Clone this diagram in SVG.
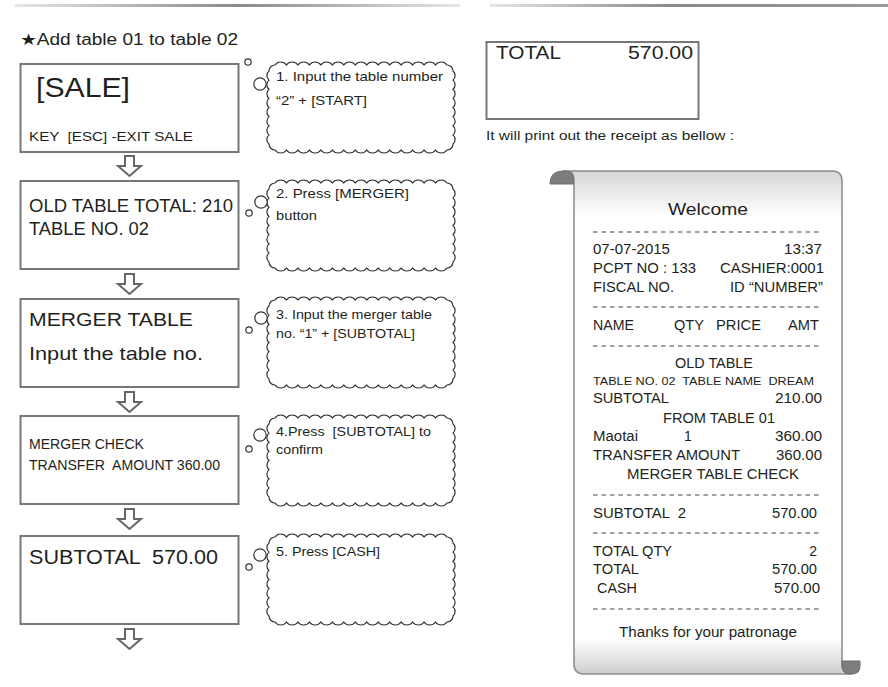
<svg xmlns="http://www.w3.org/2000/svg" width="888" height="687" viewBox="0 0 888 687">
<style>
text{font-family:"Liberation Sans",Arial,sans-serif;fill:#231f20;white-space:pre}
.box{fill:#fff;stroke:#777;stroke-width:2}
.cloud{fill:#fff;stroke:#333;stroke-width:1.2}
.arrow{fill:#fff;stroke:#666;stroke-width:2;stroke-linejoin:miter}
.dash{stroke:#444;stroke-width:1.2;stroke-dasharray:4.5 4}
.bt{font-size:13.5px}
.rt{font-size:14px}
.end{text-anchor:end}
.mid{text-anchor:middle}
</style>
<defs>
<linearGradient id="barL" x1="0" x2="1" y1="0" y2="0">
<stop offset="0" stop-color="#e6e6e6"/><stop offset="0.5" stop-color="#8a8a8a"/><stop offset="1" stop-color="#e6e6e6"/>
</linearGradient>
<linearGradient id="barR" x1="0" x2="1" y1="0" y2="0">
<stop offset="0" stop-color="#e6e6e6"/><stop offset="0.45" stop-color="#8a8a8a"/><stop offset="1" stop-color="#9a9a9a"/>
</linearGradient>
<linearGradient id="paper" x1="0" x2="0" y1="0" y2="1">
<stop offset="0" stop-color="#d6d6d6"/><stop offset="0.09" stop-color="#fff"/><stop offset="0.93" stop-color="#fff"/><stop offset="1" stop-color="#cdcdcd"/>
</linearGradient>
<path id="cloud" d="M6,0 a7,7 0 0 1 11.467,0 a7,7 0 0 1 11.467,0 a7,7 0 0 1 11.467,0 a7,7 0 0 1 11.467,0 a7,7 0 0 1 11.467,0 a7,7 0 0 1 11.467,0 a7,7 0 0 1 11.467,0 a7,7 0 0 1 11.467,0 a7,7 0 0 1 11.467,0 a7,7 0 0 1 11.467,0 a7,7 0 0 1 11.467,0 a7,7 0 0 1 11.467,0 a7,7 0 0 1 11.467,0 a7,7 0 0 1 11.467,0 a7,7 0 0 1 11.467,0 a6,6 0 0 1 6,6 a6,6 0 0 1 0,9.125 a6,6 0 0 1 0,9.125 a6,6 0 0 1 0,9.125 a6,6 0 0 1 0,9.125 a6,6 0 0 1 0,9.125 a6,6 0 0 1 0,9.125 a6,6 0 0 1 0,9.125 a6,6 0 0 1 0,9.125 a6,6 0 0 1 -6,6 a7,7 0 0 1 -11.467,0 a7,7 0 0 1 -11.467,0 a7,7 0 0 1 -11.467,0 a7,7 0 0 1 -11.467,0 a7,7 0 0 1 -11.467,0 a7,7 0 0 1 -11.467,0 a7,7 0 0 1 -11.467,0 a7,7 0 0 1 -11.467,0 a7,7 0 0 1 -11.467,0 a7,7 0 0 1 -11.467,0 a7,7 0 0 1 -11.467,0 a7,7 0 0 1 -11.467,0 a7,7 0 0 1 -11.467,0 a7,7 0 0 1 -11.467,0 a7,7 0 0 1 -11.467,0 a6,6 0 0 1 -6,-6 a6,6 0 0 1 0,-9.125 a6,6 0 0 1 0,-9.125 a6,6 0 0 1 0,-9.125 a6,6 0 0 1 0,-9.125 a6,6 0 0 1 0,-9.125 a6,6 0 0 1 0,-9.125 a6,6 0 0 1 0,-9.125 a6,6 0 0 1 0,-9.125 a6,6 0 0 1 6,-6 z"/>
</defs>
<rect width="888" height="687" fill="#fff"/>
<rect x="15" y="4" width="445" height="3" fill="url(#barL)"/>
<rect x="490" y="4" width="398" height="3" fill="url(#barR)"/>
<text x="20" y="45" font-size="16" textLength="218" lengthAdjust="spacingAndGlyphs">★Add table 01 to table 02</text>

<g id="step1">
<rect class="box" x="20.5" y="64" width="218" height="88"/>
<text x="36" y="97" font-size="28" textLength="94" lengthAdjust="spacingAndGlyphs">[SALE]</text>
<text x="29" y="141" font-size="13.5" textLength="164" lengthAdjust="spacingAndGlyphs">KEY  [ESC] -EXIT SALE</text>
</g>
<g id="step2">
<rect class="box" x="20.5" y="181" width="218" height="88"/>
<text x="29" y="212" font-size="18.5" textLength="204" lengthAdjust="spacingAndGlyphs">OLD TABLE TOTAL: 210</text>
<text x="29" y="235" font-size="18.5" textLength="120" lengthAdjust="spacingAndGlyphs">TABLE NO. 02</text>
</g>
<g id="step3">
<rect class="box" x="20.5" y="299" width="218" height="88"/>
<text x="29" y="326" font-size="19" textLength="164" lengthAdjust="spacingAndGlyphs">MERGER TABLE</text>
<text x="29" y="360" font-size="19" textLength="174" lengthAdjust="spacingAndGlyphs">Input the table no.</text>
</g>
<g id="step4">
<rect class="box" x="20.5" y="416" width="218" height="88"/>
<text x="29" y="449" font-size="14" textLength="115" lengthAdjust="spacingAndGlyphs">MERGER CHECK</text>
<text x="29" y="470" font-size="14" textLength="191" lengthAdjust="spacingAndGlyphs">TRANSFER  AMOUNT 360.00</text>
</g>
<g id="step5">
<rect class="box" x="20.5" y="536" width="218" height="88"/>
<text x="29" y="564" font-size="20" textLength="189" lengthAdjust="spacingAndGlyphs">SUBTOTAL  570.00</text>
</g>

<g id="connectors">
<path class="arrow" d="M125,156 H134 V166 H141 L129.5,176 L118,166 H125 Z"/>
<path class="arrow" d="M125,274 H134 V284 H141 L129.5,294 L118,284 H125 Z"/>
<path class="arrow" d="M125,392 H134 V402 H141 L129.5,412 L118,402 H125 Z"/>
<path class="arrow" d="M125,509 H134 V519 H141 L129.5,529 L118,519 H125 Z"/>
<path class="arrow" d="M125,629 H134 V639 H141 L129.5,649 L118,639 H125 Z"/>
</g>

<g id="note1">
<use href="#cloud" class="cloud" transform="translate(269,65)"/>
<circle class="cloud" cx="248" cy="62" r="3.2"/>
<circle class="cloud" cx="260" cy="84" r="6.2"/>
<text class="bt" x="276" y="81" textLength="167" lengthAdjust="spacingAndGlyphs">1. Input the table number</text>
<text class="bt" x="276" y="105" textLength="91" lengthAdjust="spacingAndGlyphs">“2” + [START]</text>
</g>
<g id="note2">
<use href="#cloud" class="cloud" transform="translate(269,183)"/>
<circle class="cloud" cx="249" cy="213" r="3.2"/>
<circle class="cloud" cx="261" cy="202" r="6.2"/>
<text class="bt" x="276" y="198" textLength="133" lengthAdjust="spacingAndGlyphs">2. Press [MERGER]</text>
<text class="bt" x="276" y="220" textLength="41" lengthAdjust="spacingAndGlyphs">button</text>
</g>
<g id="note3">
<use href="#cloud" class="cloud" transform="translate(269,300)"/>
<circle class="cloud" cx="249" cy="330" r="3.2"/>
<circle class="cloud" cx="261" cy="318" r="6.2"/>
<text class="bt" x="276" y="319" textLength="156" lengthAdjust="spacingAndGlyphs">3. Input the merger table</text>
<text class="bt" x="276" y="338" textLength="139" lengthAdjust="spacingAndGlyphs">no. “1” + [SUBTOTAL]</text>
</g>
<g id="note4">
<use href="#cloud" class="cloud" transform="translate(269,418)"/>
<circle class="cloud" cx="249" cy="449" r="3.2"/>
<circle class="cloud" cx="260" cy="435" r="6.2"/>
<text class="bt" x="276" y="436" textLength="155" lengthAdjust="spacingAndGlyphs">4.Press  [SUBTOTAL] to</text>
<text class="bt" x="276" y="454" textLength="47" lengthAdjust="spacingAndGlyphs">confirm</text>
</g>
<g id="note5">
<use href="#cloud" class="cloud" transform="translate(269,537)"/>
<circle class="cloud" cx="249" cy="567" r="3.2"/>
<circle class="cloud" cx="260" cy="555" r="6.2"/>
<text class="bt" x="276" y="556" textLength="104" lengthAdjust="spacingAndGlyphs">5. Press [CASH]</text>
</g>

<g id="total-display">
<rect class="box" x="486.5" y="42" width="212" height="77"/>
<text x="496" y="59" font-size="19" textLength="65" lengthAdjust="spacingAndGlyphs">TOTAL</text>
<text x="628" y="59" font-size="19" textLength="65" lengthAdjust="spacingAndGlyphs">570.00</text>
</g>
<text x="486" y="140" font-size="12.5" textLength="248" lengthAdjust="spacingAndGlyphs">It will print out the receipt as bellow :</text>

<g id="receipt">
<path d="M564,171 H832 Q842,171 842,181 V664 Q842,674 852,674 H584 Q574,674 574,664 V184 Z" fill="url(#paper)" stroke="#8a8a8a" stroke-width="1.5"/>
<path d="M550,184 Q550,171 563,171 H566 Q574,171 574,179 V184 Z" fill="#7d7d7d" stroke="#6f6f6f" stroke-width="1"/>
<path d="M842,661 H860 V666 Q860,674 852,674 H850 Q842,674 842,666 Z" fill="#7d7d7d" stroke="#6f6f6f" stroke-width="1"/>
<text class="mid" x="708" y="215" font-size="17" textLength="80" lengthAdjust="spacingAndGlyphs">Welcome</text>
<line class="dash" x1="593" x2="822" y1="232" y2="232"/>
<text class="rt" x="593" y="254" textLength="77" lengthAdjust="spacingAndGlyphs">07-07-2015</text>
<text class="rt" x="784" y="254" textLength="38" lengthAdjust="spacingAndGlyphs">13:37</text>
<text class="rt" x="593" y="273" textLength="103" lengthAdjust="spacingAndGlyphs">PCPT NO : 133</text>
<text class="rt" x="720" y="273" textLength="104" lengthAdjust="spacingAndGlyphs">CASHIER:0001</text>
<text class="rt" x="593" y="292" textLength="81" lengthAdjust="spacingAndGlyphs">FISCAL NO.</text>
<text class="rt" x="730" y="292" textLength="93" lengthAdjust="spacingAndGlyphs">ID “NUMBER”</text>
<line class="dash" x1="593" x2="822" y1="307" y2="307"/>
<text class="rt" x="593" y="330" textLength="41" lengthAdjust="spacingAndGlyphs">NAME</text>
<text class="rt" x="674" y="330" textLength="30" lengthAdjust="spacingAndGlyphs">QTY</text>
<text class="rt" x="716" y="330" textLength="45" lengthAdjust="spacingAndGlyphs">PRICE</text>
<text class="rt" x="788" y="330" textLength="31" lengthAdjust="spacingAndGlyphs">AMT</text>
<line class="dash" x1="593" x2="822" y1="346" y2="346"/>
<text class="rt" x="675" y="368" textLength="78" lengthAdjust="spacingAndGlyphs">OLD TABLE</text>
<text x="593" y="385" font-size="11.5" textLength="221" lengthAdjust="spacingAndGlyphs">TABLE NO. 02  TABLE NAME  DREAM</text>
<text class="rt" x="593" y="403" textLength="76" lengthAdjust="spacingAndGlyphs">SUBTOTAL</text>
<text class="rt" x="775" y="403" textLength="47" lengthAdjust="spacingAndGlyphs">210.00</text>
<text class="rt" x="663" y="423" textLength="112" lengthAdjust="spacingAndGlyphs">FROM TABLE 01</text>
<text class="rt" x="593" y="441" textLength="45" lengthAdjust="spacingAndGlyphs">Maotai</text>
<text class="rt" x="684" y="441">1</text>
<text class="rt" x="775" y="441" textLength="47" lengthAdjust="spacingAndGlyphs">360.00</text>
<text class="rt" x="593" y="460" textLength="147" lengthAdjust="spacingAndGlyphs">TRANSFER AMOUNT</text>
<text class="rt" x="776" y="460" textLength="46" lengthAdjust="spacingAndGlyphs">360.00</text>
<text class="rt" x="627" y="479" textLength="172" lengthAdjust="spacingAndGlyphs">MERGER TABLE CHECK</text>
<line class="dash" x1="593" x2="822" y1="495" y2="495"/>
<text class="rt" x="593" y="518" textLength="93" lengthAdjust="spacingAndGlyphs">SUBTOTAL  2</text>
<text class="rt" x="772" y="518" textLength="45" lengthAdjust="spacingAndGlyphs">570.00</text>
<line class="dash" x1="593" x2="822" y1="533" y2="533"/>
<text class="rt" x="593" y="556" textLength="79" lengthAdjust="spacingAndGlyphs">TOTAL QTY</text>
<text class="rt end" x="817" y="556">2</text>
<text class="rt" x="593" y="574" textLength="46" lengthAdjust="spacingAndGlyphs">TOTAL</text>
<text class="rt" x="772" y="574" textLength="45" lengthAdjust="spacingAndGlyphs">570.00</text>
<text class="rt" x="597" y="593" textLength="40" lengthAdjust="spacingAndGlyphs">CASH</text>
<text class="rt" x="774" y="593" textLength="46" lengthAdjust="spacingAndGlyphs">570.00</text>
<line class="dash" x1="593" x2="822" y1="609" y2="609"/>
<text class="rt" x="619" y="637" textLength="178" lengthAdjust="spacingAndGlyphs">Thanks for your patronage</text>
</g>
</svg>
